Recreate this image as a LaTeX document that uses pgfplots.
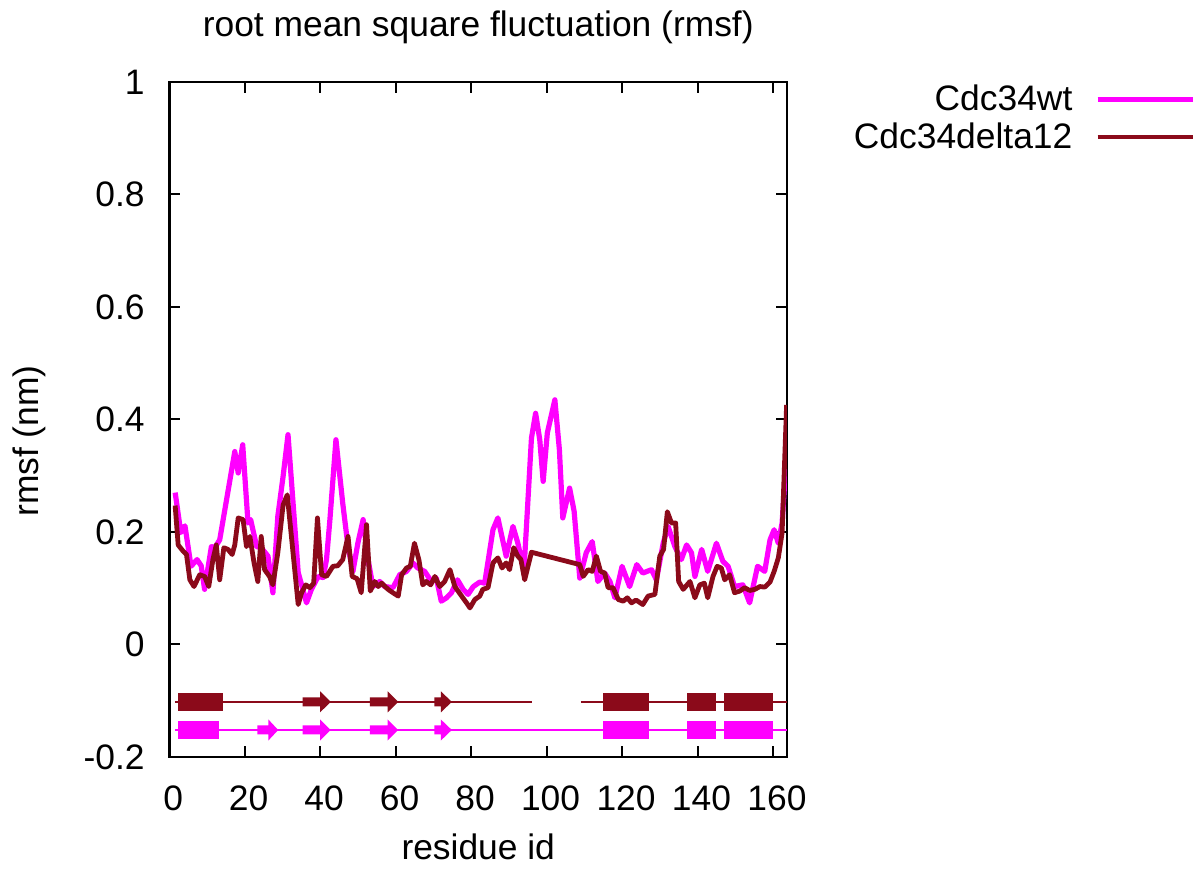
\documentclass[border=0pt]{standalone}
\usepackage{fontspec}
\setmainfont{Liberation Sans}
\usepackage{pgfplots}
\pgfplotsset{compat=1.18}
\definecolor{wtcol}{RGB}{255,0,255}
\definecolor{dcol}{RGB}{139,10,26}

\begin{document}
\begin{tikzpicture}[font=\fontsize{17.7}{21.2}\selectfont]
\path[use as bounding box] (-84.75pt,-57pt) rectangle (515.75pt,378.5pt);
\begin{axis}[
  at={(0pt,0pt)}, anchor=south west,
  scale only axis, width=308.75pt, height=337.5pt,
  xmin=0, xmax=163.6, ymin=-0.2, ymax=1,
  xtick={0,20,40,60,80,100,120,140,160},
  xticklabels={0,20,40,60,80,100,120,140,160},
  ytick={-0.2,0,0.2,0.4,0.6,0.8,1},
  yticklabels={-0.2,0,0.2,0.4,0.6,0.8,1},
  tick align=inside, major tick length=5.5pt,
  axis line style={line width=1.2pt},
  every tick/.style={line width=1pt, black},
  xticklabel style={inner sep=0pt, yshift=-14pt, xshift=1.8pt, anchor=north},
  yticklabel style={inner sep=0pt, xshift=-12.25pt, anchor=east},
  title={root mean square fluctuation (rmsf)},
  title style={at={(axis description cs:0.5,1.05)}, anchor=base, inner sep=0pt},
  xlabel={residue id},
  xlabel style={at={(axis description cs:0.5,-0.152)}, anchor=base, inner sep=0pt},
  ylabel={rmsf (nm)},
  ylabel style={at={(axis description cs:-0.212,0.468)}, anchor=base, inner sep=0pt},
  legend style={at={(axis description cs:1.6607,0.9956)}, anchor=north east,
    draw=none, fill=none, inner sep=0pt, outer sep=0pt, row sep=4.5pt,
    column sep=11.5pt, nodes={inner sep=0pt}, legend cell align=right},
  legend plot pos=right,
  legend image code/.code={\draw[#1, line width=2.3pt] (0pt,0pt) -- (47.5pt,0pt);},
]
\addplot[wtcol, line width=2.6pt, line join=round, mark=none] coordinates {
(1.5,0.27)(3.0,0.199)(4.1,0.211)(5.7,0.139)(7.3,0.151)(8.4,0.14)(9.3,0.098)
(11.1,0.174)(12.0,0.172)(13.3,0.186)(17.3,0.343)(18.2,0.305)(19.4,0.355)
(20.8,0.216)(21.5,0.222)(23.1,0.174)(24.3,0.172)(26.1,0.157)(27.4,0.092)
(28.7,0.228)(30.1,0.299)(31.4,0.373)(34.1,0.128)(36.3,0.074)(37.6,0.098)
(39.4,0.121)(40.7,0.119)(41.6,0.151)(42.5,0.222)(44.1,0.364)(45.9,0.251)
(47.3,0.174)(48.6,0.130)(49.9,0.18)(51.3,0.222)(52.6,0.151)(53.9,0.103)
(55.7,0.112)(57.0,0.103)(59.2,0.101)(61.0,0.124)(62.8,0.13)(64.5,0.145)
(65.8,0.136)(67.6,0.13)(69.4,0.112)(70.7,0.118)(72.0,0.077)(73.4,0.083)
(74.7,0.092)(76.3,0.115)(77.8,0.098)(79.1,0.089)(80.5,0.103)(82.2,0.111)
(83.5,0.109)(85.7,0.204)(87.0,0.225)(89.2,0.157)(91.0,0.21)(92.3,0.18)
(93.9,0.13)(95.9,0.367)(97.0,0.411)(98.1,0.364)(99.0,0.29)(100.1,0.376)
(102.1,0.435)(103.3,0.346)(104.2,0.225)(106.0,0.278)(107.2,0.237)
(108.7,0.118)(110.4,0.163)(112.0,0.183)(113.5,0.112)(115.3,0.127)
(116.7,0.112)(118.0,0.083)(119.9,0.139)(121.9,0.103)(123.8,0.142)
(125.4,0.127)(127.7,0.133)(129.0,0.115)(130.8,0.18)(132.1,0.21)
(133.9,0.174)(135.6,0.151)(137.0,0.177)(138.3,0.163)(139.2,0.121)
(141.0,0.169)(142.6,0.13)(144.9,0.18)(146.6,0.148)(148.0,0.139)
(149.7,0.103)(151.9,0.106)(153.7,0.074)(155.8,0.139)(157.7,0.13)
(159.1,0.186)(160.2,0.204)(161.3,0.18)(162.3,0.216)(163.6,0.352)
};
\addlegendentry{Cdc34wt}
\addplot[dcol, line width=2.4pt, line join=round, mark=none] coordinates {
(1.5,0.247)(2.3,0.177)(3.6,0.166)(4.5,0.16)(5.4,0.115)(6.5,0.103)(8.0,0.124)
(9.3,0.121)(10.4,0.103)(11.5,0.151)(12.4,0.177)(13.3,0.115)(14.4,0.172)
(15.5,0.169)(16.6,0.16)(17.3,0.177)(18.2,0.225)(19.5,0.222)(20.4,0.174)
(21.3,0.192)(22.4,0.145)(23.4,0.112)(24.3,0.192)(25.2,0.133)(26.5,0.121)
(27.4,0.106)(28.7,0.163)(30.1,0.248)(31.2,0.266)(34.1,0.071)(35.0,0.092)
(36.1,0.106)(37.2,0.101)(38.2,0.109)(39.2,0.225)(40.3,0.124)(41.6,0.121)
(43.3,0.139)(44.6,0.14)(45.9,0.151)(47.3,0.192)(48.4,0.121)(49.7,0.117)
(50.8,0.092)(52.2,0.213)(53.2,0.095)(54.4,0.112)(55.3,0.103)(56.2,0.109)
(57.9,0.098)(59.2,0.092)(60.6,0.086)(61.5,0.124)(62.8,0.136)(63.8,0.139)
(64.9,0.18)(66.1,0.15)(67.1,0.106)(68.0,0.112)(69.2,0.106)(70.3,0.121)
(71.6,0.103)(72.9,0.112)(74.3,0.133)(75.6,0.103)(77.4,0.086)(78.7,0.074)
(79.6,0.065)(80.9,0.08)(82.2,0.086)(83.0,0.098)(84.4,0.101)(85.7,0.145)
(87.0,0.154)(88.1,0.136)(89.2,0.145)(90.1,0.133)(91.2,0.172)(92.3,0.157)
(93.1,0.151)(94.1,0.115)(95.9,0.164)(108.7,0.142)(109.6,0.121)(110.9,0.133)
(112.0,0.13)(113.1,0.157)(114.2,0.13)(115.3,0.127)(116.2,0.101)(117.5,0.101)
(118.9,0.08)(120.2,0.077)(121.3,0.083)(122.4,0.074)(123.6,0.079)(125.4,0.071)
(126.8,0.086)(128.6,0.089)(129.9,0.157)(130.9,0.169)(131.9,0.236)(133.0,0.216)
(134.1,0.216)(134.9,0.112)(136.1,0.098)(137.9,0.112)(139.2,0.083)(140.5,0.106)
(141.7,0.109)(142.6,0.083)(144.0,0.121)(145.1,0.139)(146.2,0.136)(147.1,0.115)
(148.4,0.124)(149.7,0.092)(151.1,0.095)(152.4,0.101)(153.7,0.096)(155.1,0.098)
(156.4,0.103)(157.7,0.102)(159.1,0.111)(160.2,0.13)(161.3,0.154)(162.3,0.198)
(163.5,0.426)
};
\addlegendentry{Cdc34delta12}
% secondary structure: delta12 (y=-0.102)
\addplot[dcol, line width=0.9pt, forget plot] coordinates {(1.4,-0.102)(96,-0.102)};
\addplot[dcol, line width=0.9pt, forget plot] coordinates {(109,-0.102)(163.6,-0.102)};
\addplot[fill=dcol, draw=none, forget plot] coordinates {(2.3,-0.086)(14.3,-0.086)(14.3,-0.118)(2.3,-0.118)} -- cycle;
\addplot[fill=dcol, draw=none, forget plot] coordinates {(114.9,-0.086)(127.1,-0.086)(127.1,-0.118)(114.9,-0.118)} -- cycle;
\addplot[fill=dcol, draw=none, forget plot] coordinates {(137,-0.086)(144.8,-0.086)(144.8,-0.118)(137,-0.118)} -- cycle;
\addplot[fill=dcol, draw=none, forget plot] coordinates {(146.8,-0.086)(159.9,-0.086)(159.9,-0.118)(146.8,-0.118)} -- cycle;
\addplot[fill=dcol, draw=none, forget plot] coordinates {(35.3,-0.094)(39.9,-0.094)(39.9,-0.0833)(42.7,-0.102)(39.9,-0.1207)(39.9,-0.110)(35.3,-0.110)} -- cycle;
\addplot[fill=dcol, draw=none, forget plot] coordinates {(53.1,-0.094)(57.8,-0.094)(57.8,-0.0833)(60.6,-0.102)(57.8,-0.1207)(57.8,-0.110)(53.1,-0.110)} -- cycle;
\addplot[fill=dcol, draw=none, forget plot] coordinates {(70.2,-0.094)(71.9,-0.094)(71.9,-0.0833)(74.8,-0.102)(71.9,-0.1207)(71.9,-0.110)(70.2,-0.110)} -- cycle;
% secondary structure: wt (y=-0.152)
\addplot[wtcol, line width=0.9pt, forget plot] coordinates {(1.4,-0.152)(163.6,-0.152)};
\addplot[fill=wtcol, draw=none, forget plot] coordinates {(2.3,-0.136)(13.2,-0.136)(13.2,-0.168)(2.3,-0.168)} -- cycle;
\addplot[fill=wtcol, draw=none, forget plot] coordinates {(114.9,-0.136)(127.1,-0.136)(127.1,-0.168)(114.9,-0.168)} -- cycle;
\addplot[fill=wtcol, draw=none, forget plot] coordinates {(137,-0.136)(144.8,-0.136)(144.8,-0.168)(137,-0.168)} -- cycle;
\addplot[fill=wtcol, draw=none, forget plot] coordinates {(146.8,-0.136)(159.9,-0.136)(159.9,-0.168)(146.8,-0.168)} -- cycle;
\addplot[fill=wtcol, draw=none, forget plot] coordinates {(23.3,-0.144)(26.2,-0.144)(26.2,-0.1333)(28.8,-0.152)(26.2,-0.1707)(26.2,-0.160)(23.3,-0.160)} -- cycle;
\addplot[fill=wtcol, draw=none, forget plot] coordinates {(35.3,-0.144)(39.9,-0.144)(39.9,-0.1333)(42.7,-0.152)(39.9,-0.1707)(39.9,-0.160)(35.3,-0.160)} -- cycle;
\addplot[fill=wtcol, draw=none, forget plot] coordinates {(53.1,-0.144)(57.8,-0.144)(57.8,-0.1333)(60.6,-0.152)(57.8,-0.1707)(57.8,-0.160)(53.1,-0.160)} -- cycle;
\addplot[fill=wtcol, draw=none, forget plot] coordinates {(70.2,-0.144)(71.9,-0.144)(71.9,-0.1333)(74.8,-0.152)(71.9,-0.1707)(71.9,-0.160)(70.2,-0.160)} -- cycle;
\end{axis}
\end{tikzpicture}
\end{document}
